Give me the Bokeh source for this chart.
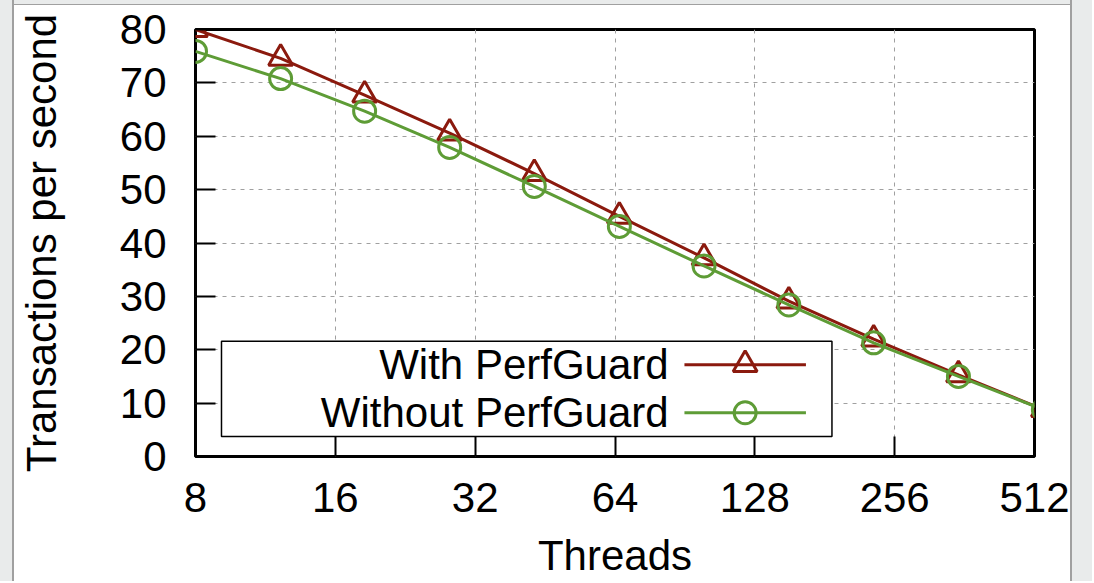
from bokeh.plotting import figure
from bokeh.layouts import row, column
from bokeh.models import FixedTicker, NumeralTickFormatter, BoxAnnotation, Label, Spacer
from bokeh.embed import file_html
from bokeh.resources import INLINE

# ---- data ----
threads = [8, 12.2, 18.5, 28.2, 42.9, 65.4, 99.5, 151.5, 230.7, 351.2, 535]
with_pg = [80.0, 74.6, 67.7, 60.6, 53.0, 45.0, 37.2, 29.1, 22.0, 15.3, 8.8]
without_pg = [75.9, 70.8, 64.7, 57.9, 50.6, 43.1, 35.7, 28.4, 21.3, 15.0, 8.8]
x_ticks = [8, 16, 32, 64, 128, 256, 512]
y_ticks = [0, 10, 20, 30, 40, 50, 60, 70, 80]
series_names = ["With PerfGuard", "Without PerfGuard"]

RED = "#8b1a0e"
GREEN = "#5e9c36"
FONT = "Liberation Sans"
FS = "42px"
TOTAL_H = 581
TOP_GRAY, TOP_EDGE = 4, 1
LEFT_GRAY, EDGE_W, RIGHT_GRAY = 12, 2, 20
FIG_W = 1056
FIG_H = TOTAL_H - TOP_GRAY - TOP_EDGE

p = figure(width=FIG_W, height=FIG_H, x_axis_type="log", x_range=(8, 512), y_range=(0, 80),
           output_backend="svg", toolbar_location=None,
           min_border_left=179, min_border_right=36, min_border_top=24, min_border_bottom=123)
p.background_fill_color = "white"
p.border_fill_color = "white"
p.outline_line_color = "black"
p.outline_line_width = 3
p.outline_line_alpha = 1

for ax in (p.xaxis[0], p.yaxis[0]):
    ax.axis_line_color = None
    ax.major_tick_in = 20
    ax.major_tick_out = 0
    ax.major_tick_line_color = "black"
    ax.major_tick_line_width = 2
    ax.minor_tick_line_color = None
    ax.major_label_text_font = FONT
    ax.major_label_text_font_size = FS
    ax.major_label_text_color = "black"
    ax.axis_label_text_font = FONT
    ax.axis_label_text_font_size = FS
    ax.axis_label_text_font_style = "normal"
    ax.axis_label_text_color = "black"

p.xaxis.ticker = FixedTicker(ticks=x_ticks)
p.xaxis.formatter = NumeralTickFormatter(format="0")
p.yaxis.ticker = FixedTicker(ticks=y_ticks)
p.xaxis.axis_label = "Threads"
p.yaxis.axis_label = "Transactions per second"
p.xaxis.major_label_standoff = 26
p.xaxis.axis_label_standoff = 17
p.yaxis.major_label_standoff = 29
p.yaxis.axis_label_standoff = 52

for g in (p.xgrid[0], p.ygrid[0]):
    g.grid_line_color = "#a0a0a0"
    g.grid_line_dash = "4 5"
    g.grid_line_width = 1

p.line(threads, with_pg, color=RED, line_width=3)
p.scatter(threads, with_pg, marker="triangle", size=24, fill_color=None,
          line_color=RED, line_width=3)
p.line(threads, without_pg, color=GREEN, line_width=3)
p.scatter(threads, without_pg, marker="circle", size=22, fill_color=None,
          line_color=GREEN, line_width=3)

# ---- gnuplot-style legend (text on the left, sample on the right) ----
box = BoxAnnotation(left=9.1, right=187.6, top=21.6, bottom=3.73,
                    fill_color="white", fill_alpha=1.0, line_color="black",
                    line_width=1.5, line_alpha=1.0)
p.add_layout(box)
leg_y = [17.2, 8.2]
leg_cols = [RED, GREEN]
leg_markers = ["triangle", "circle"]
leg_sizes = [24, 22]
for name, yy, col, mk, sz in zip(series_names, leg_y, leg_cols, leg_markers, leg_sizes):
    p.line([90.3, 164.9], [yy, yy], color=col, line_width=3, level="overlay")
    p.scatter([122], [yy], marker=mk, size=sz, fill_color=None, line_color=col,
              line_width=3, level="overlay")
    p.add_layout(Label(x=83.5, y=yy, text=name, text_align="right", text_baseline="middle",
                       text_font=FONT, text_font_size=FS, text_color="black", level="overlay"))

# ---- page frame: light grey surround with a thin grey edge around the white panel ----
BG = {"background-color": "#e9ebeb"}
EDGE = {"background-color": "#a0a0a0"}
middle = column(Spacer(width=FIG_W, height=TOP_GRAY, styles=BG),
                Spacer(width=FIG_W, height=TOP_EDGE, styles=EDGE),
                p, spacing=0)
page = row(Spacer(width=LEFT_GRAY, height=TOTAL_H, styles=BG),
           Spacer(width=EDGE_W, height=TOTAL_H, styles=EDGE),
           middle,
           Spacer(width=EDGE_W, height=TOTAL_H, styles=EDGE),
           Spacer(width=RIGHT_GRAY, height=TOTAL_H, styles=BG),
           spacing=0)

open("out.html", "w").write(file_html(page, INLINE))
